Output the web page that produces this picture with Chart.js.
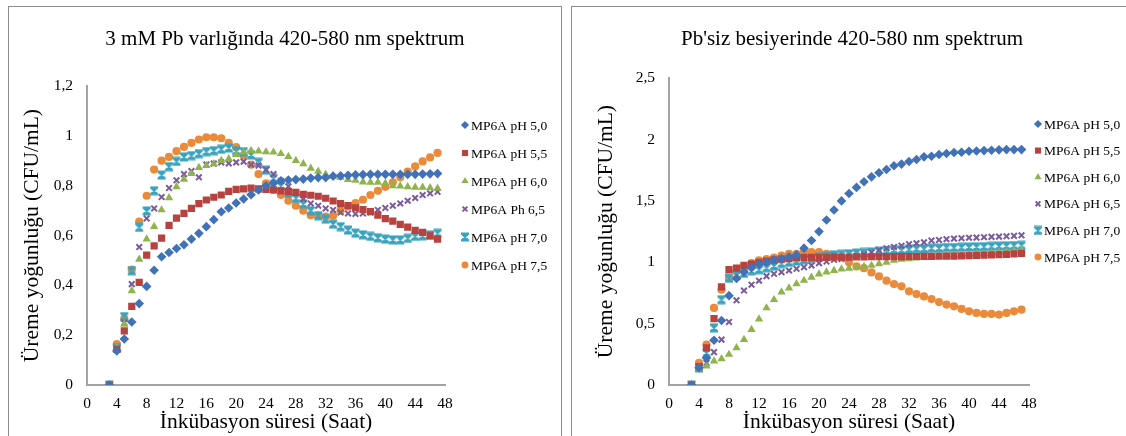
<!DOCTYPE html>
<html>
<head>
<meta charset="utf-8">
<script src="https://cdn.jsdelivr.net/npm/chart.js@4.4.1/dist/chart.umd.min.js"></script>
<style>
  html, body { margin: 0; padding: 0; background: #fff; }
  body { position: relative; width: 1126px; height: 436px; overflow: hidden; }
  .panel { position: absolute; top: 0; width: 563px; height: 436px; }
  .frame { position: absolute; border: 1px solid #8c8c8c; border-bottom: none; pointer-events: none; }
</style>
</head>
<body>
<div class="panel" style="left:0"><canvas id="chartPb" width="563" height="436"></canvas></div>
<div class="panel" style="left:563px"><canvas id="chartNoPb" width="563" height="436"></canvas></div>
<div class="frame" style="left:8px;top:6px;width:552px;height:440px"></div>
<div class="frame" style="left:571px;top:6px;width:560px;height:440px"></div>
<script>
// incubation hours (x)
const hours = [3, 4, 5, 6, 7, 8, 9, 10, 11, 12, 13, 14, 15, 16, 17, 18, 19, 20, 21, 22,
  23, 24, 25, 26, 27, 28, 29, 30, 31, 32, 33, 34, 35, 36, 37, 38, 39, 40, 41, 42,
  43, 44, 45, 46, 47];

// 3 mM Pb
const pbPH50 = [0, 0.137, 0.185, 0.253, 0.327, 0.396, 0.461, 0.515, 0.532, 0.548,
  0.563, 0.586, 0.609, 0.636, 0.664, 0.696, 0.711, 0.731, 0.747, 0.764,
  0.783, 0.800, 0.810, 0.820, 0.823, 0.825, 0.827, 0.831, 0.833, 0.833,
  0.839, 0.840, 0.842, 0.844, 0.845, 0.846, 0.846, 0.846, 0.846, 0.846,
  0.846, 0.846, 0.847, 0.848, 0.849];
const pbPH55 = [0, 0.143, 0.217, 0.316, 0.412, 0.522, 0.559, 0.590, 0.641, 0.670,
  0.689, 0.709, 0.728, 0.743, 0.754, 0.763, 0.778, 0.786, 0.788, 0.791,
  0.788, 0.786, 0.784, 0.780, 0.777, 0.774, 0.766, 0.762, 0.758, 0.750,
  0.739, 0.728, 0.720, 0.711, 0.704, 0.696, 0.682, 0.668, 0.658, 0.645,
  0.634, 0.621, 0.613, 0.599, 0.586];
const pbPH60 = [0, 0.150, 0.244, 0.378, 0.505, 0.586, 0.636, 0.703, 0.752, 0.796,
  0.826, 0.849, 0.873, 0.881, 0.888, 0.901, 0.908, 0.925, 0.935, 0.941,
  0.939, 0.936, 0.935, 0.929, 0.917, 0.901, 0.888, 0.870, 0.858, 0.846,
  0.838, 0.834, 0.825, 0.822, 0.815, 0.814, 0.814, 0.810, 0.800, 0.799,
  0.796, 0.794, 0.794, 0.792, 0.790];
const pbPH65 = [0, 0.146, 0.250, 0.405, 0.554, 0.669, 0.709, 0.755, 0.791, 0.822,
  0.847, 0.859, 0.834, 0.885, 0.889, 0.894, 0.890, 0.894, 0.897, 0.885,
  0.881, 0.865, 0.847, 0.820, 0.798, 0.774, 0.747, 0.729, 0.720, 0.709,
  0.703, 0.693, 0.689, 0.687, 0.689, 0.693, 0.703, 0.711, 0.720, 0.729,
  0.740, 0.751, 0.763, 0.770, 0.776];
const pbPH70 = [0, 0.150, 0.275, 0.459, 0.633, 0.699, 0.780, 0.843, 0.877, 0.898,
  0.916, 0.921, 0.929, 0.937, 0.941, 0.947, 0.952, 0.941, 0.937, 0.924,
  0.894, 0.863, 0.830, 0.800, 0.770, 0.750, 0.727, 0.700, 0.680, 0.666,
  0.646, 0.636, 0.622, 0.610, 0.603, 0.597, 0.591, 0.586, 0.583, 0.583,
  0.589, 0.597, 0.599, 0.603, 0.609];
const pbPH75 = [0, 0.164, 0.267, 0.463, 0.656, 0.760, 0.865, 0.901, 0.916, 0.939,
  0.956, 0.972, 0.986, 0.995, 0.995, 0.991, 0.972, 0.955, 0.921, 0.885,
  0.847, 0.810, 0.784, 0.763, 0.740, 0.720, 0.700, 0.682, 0.680, 0.676,
  0.680, 0.700, 0.717, 0.731, 0.744, 0.763, 0.780, 0.796, 0.814, 0.834,
  0.857, 0.878, 0.898, 0.914, 0.932];

// Pb'siz
const npPH50 = [0, 0.140, 0.220, 0.365, 0.525, 0.728, 0.868, 0.920, 0.955, 0.985,
  1.000, 1.020, 1.030, 1.045, 1.060, 1.115, 1.177, 1.250, 1.345, 1.426,
  1.500, 1.561, 1.610, 1.656, 1.696, 1.729, 1.756, 1.786, 1.800, 1.821,
  1.837, 1.859, 1.864, 1.878, 1.886, 1.894, 1.897, 1.905, 1.907, 1.910,
  1.913, 1.916, 1.918, 1.918, 1.918];
const npPH55 = [0, 0.149, 0.303, 0.540, 0.800, 0.940, 0.952, 0.974, 0.985, 1.000,
  1.010, 1.020, 1.025, 1.030, 1.035, 1.040, 1.040, 1.040, 1.040, 1.042,
  1.042, 1.042, 1.044, 1.044, 1.045, 1.045, 1.045, 1.046, 1.046, 1.047,
  1.047, 1.048, 1.048, 1.049, 1.050, 1.050, 1.052, 1.054, 1.056, 1.058,
  1.060, 1.062, 1.065, 1.068, 1.072];
const npPH60 = [0, 0.133, 0.154, 0.195, 0.214, 0.249, 0.303, 0.370, 0.452, 0.538,
  0.628, 0.695, 0.758, 0.790, 0.825, 0.852, 0.877, 0.904, 0.920, 0.933,
  0.944, 0.950, 0.960, 0.966, 0.974, 0.988, 1.000, 1.015, 1.023, 1.028,
  1.034, 1.040, 1.047, 1.052, 1.055, 1.058, 1.060, 1.066, 1.069, 1.070,
  1.077, 1.082, 1.088, 1.093, 1.100];
const npPH65 = [0, 0.154, 0.180, 0.268, 0.370, 0.514, 0.690, 0.770, 0.817, 0.850,
  0.887, 0.906, 0.920, 0.933, 0.947, 0.960, 0.974, 0.993, 1.006, 1.020,
  1.028, 1.039, 1.050, 1.065, 1.080, 1.100, 1.115, 1.125, 1.135, 1.147,
  1.155, 1.163, 1.177, 1.182, 1.188, 1.193, 1.196, 1.200, 1.201, 1.204,
  1.207, 1.209, 1.212, 1.215, 1.220];
const npPH70 = [0, 0.140, 0.262, 0.465, 0.695, 0.870, 0.900, 0.910, 0.930, 0.940,
  0.955, 0.970, 0.990, 1.000, 1.010, 1.020, 1.030, 1.040, 1.050, 1.060,
  1.065, 1.070, 1.075, 1.080, 1.085, 1.090, 1.095, 1.100, 1.100, 1.105,
  1.110, 1.110, 1.115, 1.115, 1.120, 1.120, 1.122, 1.124, 1.126, 1.128,
  1.130, 1.132, 1.134, 1.136, 1.138];
const npPH75 = [0, 0.180, 0.330, 0.628, 0.777, 0.870, 0.925, 0.966, 0.993, 1.015,
  1.025, 1.039, 1.055, 1.069, 1.069, 1.088, 1.082, 1.082, 1.069, 1.055,
  1.039, 0.998, 0.966, 0.952, 0.917, 0.885, 0.850, 0.822, 0.804, 0.763,
  0.741, 0.722, 0.700, 0.676, 0.655, 0.641, 0.620, 0.600, 0.587, 0.579,
  0.579, 0.574, 0.587, 0.600, 0.614];

const pbLabels = ['MP6A pH 5,0', 'MP6A pH 5,5', 'MP6A pH 6,0', 'MP6A Ph 6,5', 'MP6A pH 7,0', 'MP6A pH 7,5'];
const npLabels = ['MP6A pH 5,0', 'MP6A pH 5,5', 'MP6A pH 6,0', 'MP6A pH 6,5', 'MP6A pH 7,0', 'MP6A pH 7,5'];

const SERIF = "'Liberation Serif', 'Times New Roman', serif";
const colors = ['#4172b8', '#b8423f', '#8fb34d', '#7a5c9c', '#3ba3bd', '#eb8a3a'];

// excel "star" marker: X with bars on top and bottom
function starMarker(color) {
  const c = document.createElement('canvas');
  c.width = 10;
  c.height = 10;
  const g = c.getContext('2d');
  g.strokeStyle = color;
  g.lineWidth = 2;
  g.beginPath();
  g.moveTo(1.5, 1.5); g.lineTo(8.5, 8.5);
  g.moveTo(8.5, 1.5); g.lineTo(1.5, 8.5);
  g.moveTo(1, 1.5); g.lineTo(9, 1.5);
  g.moveTo(1, 8.5); g.lineTo(9, 8.5);
  g.moveTo(5, 1.5); g.lineTo(5, 8.5);
  g.stroke();
  return c;
}

const markers = [
  { pointStyle: 'rectRot', pointRadius: 4.8, pointBorderWidth: 0 },
  { pointStyle: 'rect', pointRadius: 5.1, pointBorderWidth: 0 },
  { pointStyle: 'triangle', pointRadius: 4.8, pointBorderWidth: 0 },
  { pointStyle: 'crossRot', pointRadius: 4, pointBorderWidth: 2 },
  { pointStyle: starMarker(colors[4]), pointRadius: 4.5, pointBorderWidth: 0 },
  { pointStyle: 'circle', pointRadius: 4.1, pointBorderWidth: 0 }
];

function buildDatasets(labels, series) {
  return series.map((vals, i) => Object.assign({
    label: labels[i],
    data: hours.map((h, j) => ({ x: h, y: vals[j] })),
    showLine: false,
    pointBackgroundColor: colors[i],
    pointBorderColor: colors[i],
    pointHoverRadius: markers[i].pointRadius
  }, markers[i]));
}

const sideLegend = {
  id: 'sideLegend',
  afterDraw(chart, _args, opts) {
    const ctx = chart.ctx;
    ctx.save();
    ctx.font = opts.font;
    ctx.textBaseline = 'middle';
    ctx.textAlign = 'left';
    chart.data.datasets.forEach((ds, i) => {
      const y = opts.top + i * opts.gap;
      ctx.fillStyle = ds.pointBackgroundColor;
      ctx.strokeStyle = ds.pointBorderColor;
      ctx.lineWidth = ds.pointBorderWidth;
      Chart.helpers.drawPoint(ctx, {
        pointStyle: ds.pointStyle,
        radius: ds.pointRadius * 0.85,
        borderWidth: ds.pointBorderWidth,
        rotation: 0
      }, opts.left, y);
      ctx.fillStyle = '#000';
      ctx.fillText(ds.label, opts.left + 6, y + 1);
    });
    ctx.restore();
  }
};

function makeChart(id, cfg) {
  const fmt = (v) => String(Math.round(v * 10) / 10).replace('.', ',');
  return new Chart(document.getElementById(id), {
    type: 'scatter',
    data: { datasets: buildDatasets(cfg.labels, cfg.series) },
    plugins: [sideLegend],
    options: {
      responsive: false,
      animation: false,
      events: [],
      layout: { padding: { left: cfg.padLeft, right: 0, top: 0, bottom: 0 } },
      plugins: {
        legend: { display: false },
        tooltip: { enabled: false },
        title: {
          display: true,
          text: cfg.title,
          color: '#000',
          font: { family: SERIF, size: 21, weight: 'normal', lineHeight: 1.2 },
          padding: { top: 27, bottom: cfg.titleBottom }
        },
        sideLegend: { left: cfg.legendX, top: cfg.legendTop, gap: cfg.legendGap, font: '13.5px ' + SERIF }
      },
      scales: {
        x: {
          type: 'linear',
          min: 0,
          max: 48,
          grid: { display: false, drawTicks: false },
          border: { display: true, color: '#a3a3a3', width: 2 },
          ticks: { stepSize: 4, autoSkip: false, maxRotation: 0, padding: 10, color: '#000', font: { family: SERIF, size: 15.5 } },
          title: {
            display: true,
            text: 'İnkübasyon süresi (Saat)',
            color: '#000',
            font: { family: SERIF, size: 21.5, lineHeight: 1.2 },
            padding: { top: 0, bottom: 1 }
          },
          afterFit: (s) => { s.height = 51; }
        },
        y: {
          type: 'linear',
          min: 0,
          max: cfg.yMax,
          grid: { display: false, drawTicks: false },
          border: { display: true, color: '#a3a3a3', width: 2 },
          ticks: { stepSize: cfg.yStep, padding: 14, color: '#000', font: { family: SERIF, size: 15.5 }, callback: fmt },
          title: {
            display: true,
            text: 'Üreme yoğunluğu (CFU/mL)',
            color: '#000',
            font: { family: SERIF, size: 21.5, lineHeight: 1.2 },
            padding: { top: cfg.yTitlePad, bottom: 0 }
          },
          afterFit: (s) => { s.width = cfg.yWidth; }
        },
        // empty box on the right that keeps room for the legend
        legendRoom: {
          type: 'linear',
          position: 'right',
          display: true,
          grid: { display: false, drawTicks: false },
          border: { display: false },
          ticks: { display: false },
          afterFit: (s) => { s.width = cfg.roomWidth; }
        }
      }
    }
  });
}

makeChart('chartPb', {
  title: '3 mM Pb varlığında 420-580 nm spektrum',
  labels: pbLabels,
  series: [pbPH50, pbPH55, pbPH60, pbPH65, pbPH70, pbPH75],
  yMax: 1.2, yStep: 0.2,
  padLeft: 7, yWidth: 80, yTitlePad: 12, roomWidth: 118, titleBottom: 34,
  legendX: 465, legendTop: 125, legendGap: 28
});

makeChart('chartNoPb', {
  title: "Pb'siz besiyerinde 420-580 nm spektrum",
  labels: npLabels,
  series: [npPH50, npPH55, npPH60, npPH65, npPH70, npPH75],
  yMax: 2.5, yStep: 0.5,
  padLeft: 15, yWidth: 91, yTitlePad: 15, roomWidth: 97, titleBottom: 26,
  legendX: 475, legendTop: 124, legendGap: 26.6
});
</script>
</body>
</html>
